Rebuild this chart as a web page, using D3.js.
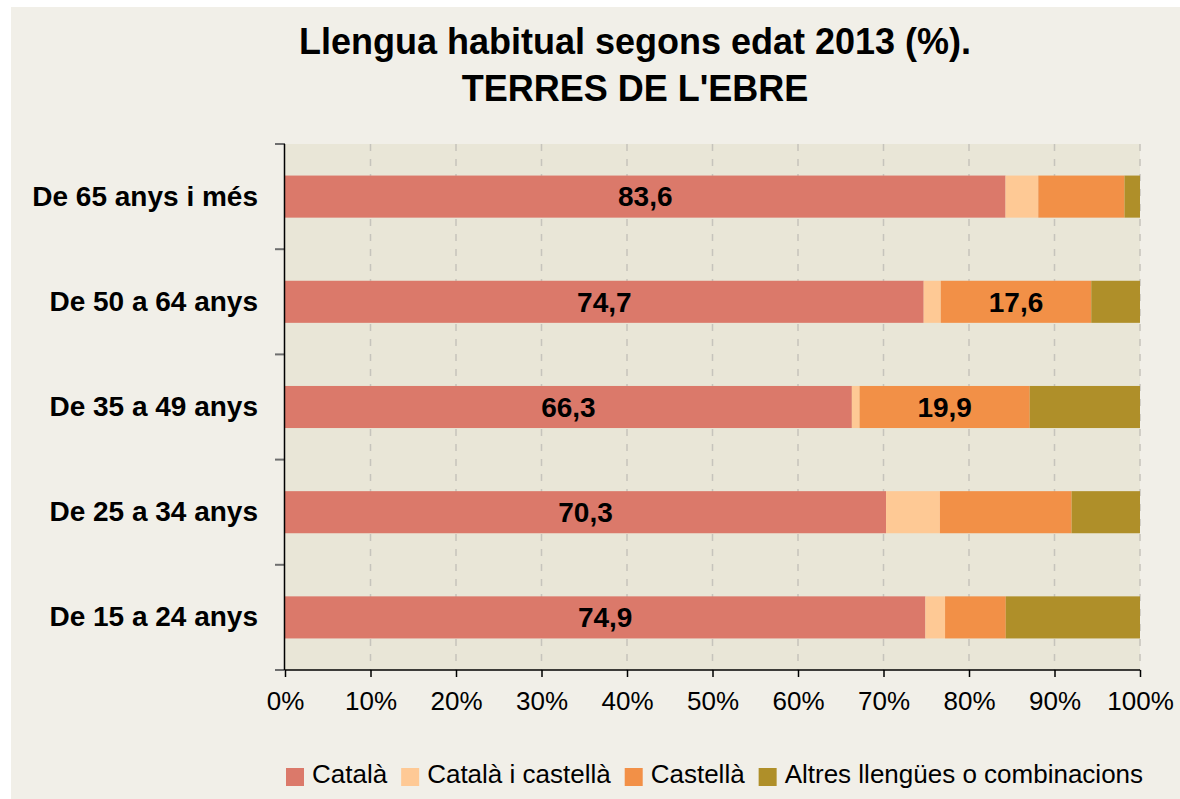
<!DOCTYPE html>
<html>
<head>
<meta charset="utf-8">
<script src="https://cdn.jsdelivr.net/npm/d3@7"></script>
<style>
  html, body { margin: 0; padding: 0; background: #ffffff; }
  svg { display: block; font-family: "Liberation Sans", Arial, sans-serif; }
</style>
</head>
<body>
<script>
// categories (top to bottom) and series values (%)
var categories = ['De 65 anys i més', 'De 50 a 64 anys', 'De 35 a 49 anys', 'De 25 a 34 anys', 'De 15 a 24 anys'];
var catala     = [83.6, 74.7, 66.3, 70.3, 74.9];
var catCast    = [3.8, 2.0, 0.9, 6.3, 2.3];
var castella   = [10.0, 17.6, 19.9, 15.4, 7.1];
var altres     = [1.8, 5.7, 12.9, 8.0, 15.7];
var seriesNames = ['Català', 'Català i castellà', 'Castellà', 'Altres llengües o combinacions'];
var seriesColors = ['#DB796A', '#FEC995', '#F29047', '#AF8F29'];
var xTicks = [0, 0.1, 0.2, 0.3, 0.4, 0.5, 0.6, 0.7, 0.8, 0.9, 1];

var W = 1180, H = 799;
// plot box (named so they don't clash with window.top)
var plotL = 285, plotR = 1140, plotT = 144, plotB = 670;

// rows for the stack
var rows = categories.map(function(c, i) {
    var r = { cat: c };
    r[seriesNames[0]] = catala[i];
    r[seriesNames[1]] = catCast[i];
    r[seriesNames[2]] = castella[i];
    r[seriesNames[3]] = altres[i];
    return r;
});

var stacked = d3.stack().keys(seriesNames).offset(d3.stackOffsetExpand)(rows);

var svg = d3.select('body').append('svg')
    .attr('width', W)
    .attr('height', H);

// chart background
svg.append('rect')
    .attr('x', 11).attr('y', 7)
    .attr('width', W - 11).attr('height', H - 7)
    .attr('fill', '#F1EFE8');

var x = d3.scaleLinear().domain([0, 1]).range([plotL, plotR]);
var y = d3.scaleBand().domain(categories).range([plotT, plotB])
    .paddingInner(0.6).paddingOuter(0.3);

// plot area
svg.append('rect')
    .attr('x', plotL).attr('y', plotT)
    .attr('width', plotR - plotL).attr('height', plotB - plotT)
    .attr('fill', '#E9E6D7');

// dashed grid
svg.append('g').selectAll('line')
    .data(xTicks.slice(1))
    .enter().append('line')
    .attr('x1', function(d) { return x(d); })
    .attr('x2', function(d) { return x(d); })
    .attr('y1', plotT).attr('y2', plotB)
    .attr('stroke', '#C6C4BC')
    .attr('stroke-width', 1.5)
    .attr('stroke-dasharray', '7,8');

// bars
var groups = svg.append('g').selectAll('g')
    .data(stacked)
    .enter().append('g')
    .attr('fill', function(d, i) { return seriesColors[i]; });

groups.selectAll('rect')
    .data(function(d) { return d; })
    .enter().append('rect')
    .attr('x', function(d) { return x(d[0]); })
    .attr('width', function(d) { return x(d[1]) - x(d[0]); })
    .attr('y', function(d) { return y(d.data.cat); })
    .attr('height', y.bandwidth());

// value labels (Català always, Castellà when large)
var fmt = function(v) { return d3.format('.1f')(v).replace('.', ','); };
var labelData = [];
stacked.forEach(function(s, si) {
    s.forEach(function(d) {
        var v = d.data[s.key];
        if (si === 0 || (si === 2 && v > 16)) {
            labelData.push({ x: (x(d[0]) + x(d[1])) / 2, cat: d.data.cat, v: v });
        }
    });
});
svg.append('g').selectAll('text')
    .data(labelData)
    .enter().append('text')
    .attr('x', function(d) { return d.x; })
    .attr('y', function(d) { return y(d.cat) + y.bandwidth() / 2; })
    .attr('dy', '0.35em')
    .attr('text-anchor', 'middle')
    .attr('font-size', 28)
    .attr('font-weight', 'bold')
    .attr('fill', '#000')
    .text(function(d) { return fmt(d.v); });

// bottom axis
var xAxis = svg.append('g')
    .attr('transform', 'translate(0,' + plotB + ')')
    .call(d3.axisBottom(x).tickValues(xTicks).tickFormat(d3.format('.0%'))
        .tickSize(7).tickSizeOuter(0).tickPadding(15));
xAxis.select('.domain').remove();
xAxis.selectAll('line').attr('stroke', '#000').attr('stroke-width', 1.5);
xAxis.selectAll('text').attr('font-size', 26).attr('fill', '#000')
    .attr('font-family', '"Liberation Sans", Arial, sans-serif');
svg.append('line')
    .attr('x1', 275).attr('x2', plotR)
    .attr('y1', plotB).attr('y2', plotB)
    .attr('stroke', '#000').attr('stroke-width', 1.5);

// left axis: category labels
var yAxis = svg.append('g')
    .attr('transform', 'translate(' + plotL + ',0)')
    .call(d3.axisLeft(y).tickSize(0).tickPadding(27));
yAxis.select('.domain').remove();
yAxis.selectAll('text').attr('font-size', 28).attr('font-weight', 'bold').attr('fill', '#000')
    .attr('font-family', '"Liberation Sans", Arial, sans-serif');

// left axis boundary ticks and line
var bounds = categories.map(function(c) { return y(c) - y.step() * y.paddingInner() / 2; });
bounds.push(plotB);
svg.append('g').selectAll('line')
    .data(bounds)
    .enter().append('line')
    .attr('x1', 275).attr('x2', plotL)
    .attr('y1', function(d) { return d; })
    .attr('y2', function(d) { return d; })
    .attr('stroke', '#6E6E6E').attr('stroke-width', 2);
svg.append('line')
    .attr('x1', plotL - 0.5).attr('x2', plotL - 0.5)
    .attr('y1', plotT).attr('y2', plotB)
    .attr('stroke', '#000').attr('stroke-width', 1.5);

// title
var title = svg.append('text')
    .attr('text-anchor', 'middle')
    .attr('font-size', 36)
    .attr('font-weight', 'bold')
    .attr('fill', '#000');
title.append('tspan').attr('x', 635).attr('y', 54).text("Llengua habitual segons edat 2013 (%).");
title.append('tspan').attr('x', 635).attr('y', 101).text("TERRES DE L'EBRE");

// legend
var legend = svg.append('g');
var lx = 286;
seriesNames.forEach(function(name, i) {
    legend.append('rect')
        .attr('x', lx).attr('y', 768)
        .attr('width', 18).attr('height', 18)
        .attr('fill', seriesColors[i]);
    var t = legend.append('text')
        .attr('x', lx + 26).attr('y', 783)
        .attr('font-size', 26)
        .attr('fill', '#000')
        .text(name);
    lx += 26 + t.node().getComputedTextLength() + 14;
});
</script>
</body>
</html>
